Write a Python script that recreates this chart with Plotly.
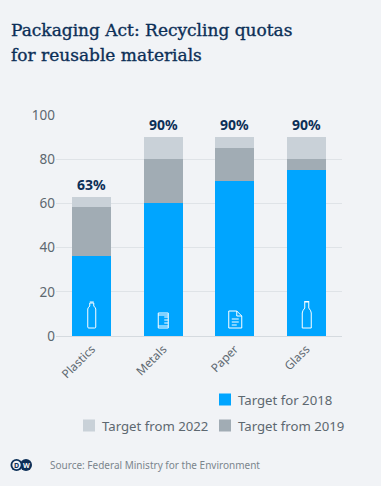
import plotly.graph_objects as go

categories = ["Plastics", "Metals", "Paper", "Glass"]
target_2018 = [36, 60, 70, 75]
target_2019_total = [58.5, 80, 85, 80]
target_2022_total = [63, 90, 90, 90]
total_labels = ["63%", "90%", "90%", "90%"]
y_ticks = [0, 20, 40, 60, 80, 100]

W, H = 381, 486
L, R, T, B = 56, 39, 115, 150
PW, PH = W - L - R, H - T - B
BG = "#f1f3f6"
NAVY = "#0c2f57"
GREY = "#5d6870"
FONT = "Noto Sans"


def px(x):
    return (x - L) / PW


def py(y):
    return (H - B - y) / PH


inc_2019 = [a - b for a, b in zip(target_2019_total, target_2018)]
inc_2022 = [a - b for a, b in zip(target_2022_total, target_2019_total)]

fig = go.Figure()
fig.add_bar(x=categories, y=target_2018, name="Target for 2018",
            marker=dict(color="#00a5ff", line=dict(width=0)), legend="legend", hoverinfo="skip")
fig.add_bar(x=categories, y=inc_2019, name="Target from 2019",
            marker=dict(color="#a1acb4", line=dict(width=0)), legend="legend2", hoverinfo="skip")
fig.add_bar(x=categories, y=inc_2022, name="Target from 2022",
            marker=dict(color="#c9d1d8", line=dict(width=0)), legend="legend3", hoverinfo="skip")

legend_font = dict(family=FONT, size=13.2, color=GREY)


def legend_at(x, y):
    return dict(x=px(x), y=py(y), xanchor="left", yanchor="middle", bgcolor="rgba(0,0,0,0)",
                font=legend_font, itemwidth=30, borderwidth=0, tracegroupgap=0)


icon_paths = {
    0: "M-3,8 L3,8 Q4,8 4,9 L4,27 Q4,28 2,30 L2,33 L-2,33 L-2,30 Q-4,28 -4,27 L-4,9 Q-4,8 -3,8 Z M-2,34 L2,34",
    1: "M-5,8 L5,8 L5,23 L-5,23 Z M-5,10 L5,10 M-5,21 L5,21 M1,13 L5,13 M1,16 L5,16 M1,19 L5,19",
    2: "M-6,8 L7,8 L7,20 L2,25 L-6,25 Z M2,25 L2,20 L7,20 M-3,17 L4,17 M-3,14 L4,14 M-3,11 L2,11",
    3: "M-4,8 L5,8 L5,23 Q5,25 2.5,28 L2.5,34 L-1.5,34 L-1.5,28 Q-4,25 -4,23 Z M-2,34.5 L3,34.5",
}
shapes = [
    dict(type="path", xref="x", yref="y", xsizemode="pixel", ysizemode="pixel",
         xanchor=i, yanchor=0, path=p, line=dict(color="white", width=1), layer="above")
    for i, p in icon_paths.items()
]
# DW logo
for cx, r, fill in ((26, 6, NAVY), (16.5, 6, NAVY), (16.5, 4.2, BG)):
    shapes.append(dict(type="circle", xref="paper", yref="paper",
                       x0=px(cx - r), x1=px(cx + r), y0=py(465 + r), y1=py(465 - r),
                       fillcolor=fill, line=dict(width=0), layer="above"))

annotations = [
    dict(text=label, x=cat, y=total, xref="x", yref="y", xanchor="center", yanchor="bottom",
         yshift=1, showarrow=False, font=dict(family=FONT, size=14, color=NAVY, weight=700))
    for cat, total, label in zip(categories, target_2022_total, total_labels)
] + [
    dict(text="Packaging Act: Recycling quotas", x=px(9), y=py(30),
         xref="paper", yref="paper", xanchor="left", yanchor="middle", align="left", showarrow=False,
         font=dict(family="DejaVu Serif", size=17, color=NAVY)),
    dict(text="for reusable materials", x=px(9), y=py(54.5),
         xref="paper", yref="paper", xanchor="left", yanchor="middle", align="left", showarrow=False,
         font=dict(family="DejaVu Serif", size=17, color=NAVY)),
    dict(text="Source: Federal Ministry for the Environment", x=px(47.5), y=py(464.5),
         xref="paper", yref="paper", xanchor="left", yanchor="middle", showarrow=False,
         font=dict(family=FONT, size=10, color="#7b858d")),
    dict(text="<b>D</b>", x=px(16.5), y=py(465), xref="paper", yref="paper", showarrow=False,
         xanchor="center", yanchor="middle", font=dict(family=FONT, size=7, color=NAVY)),
    dict(text="<b>W</b>", x=px(26.5), y=py(465), xref="paper", yref="paper", showarrow=False,
         xanchor="center", yanchor="middle", font=dict(family=FONT, size=7, color="white")),
]

fig.update_layout(
    width=W, height=H, autosize=False,
    margin=dict(l=L, r=R, t=T, b=B),
    paper_bgcolor=BG, plot_bgcolor=BG,
    barmode="stack", bargap=0.46,
    showlegend=True,
    legend=legend_at(205, 400),
    legend2=legend_at(205, 426),
    legend3=legend_at(69, 426),
    shapes=shapes, annotations=annotations,
    font=dict(family=FONT),
    xaxis=dict(type="category", tickangle=-45, showgrid=False, showline=False, zeroline=False,
               ticks="", ticklabelstandoff=3, tickfont=dict(family=FONT, size=11.8, color=GREY)),
    yaxis=dict(range=[0, 100], tickvals=y_ticks, gridcolor="#dfe3e7", gridwidth=1,
               zeroline=True, zerolinecolor="#d5dadf", zerolinewidth=1, showline=False,
               ticks="", tickfont=dict(family=FONT, size=13.5, color=GREY)),
)
post = """
document.body.style.margin = '0';
document.body.style.background = '#f1f3f6';
var s = document.createElement('style');
s.textContent = '.legendtext, .legend2text, .legend3text { transform: translateX(-7px); }'
  + '.annotation[data-index="4"] text, .annotation[data-index="5"] text { stroke: #0c2f57; stroke-width: 0.35px; }';
document.head.appendChild(s);
"""
fig.write_html("out.html", post_script=post, config=dict(displayModeBar=False, staticPlot=True))
